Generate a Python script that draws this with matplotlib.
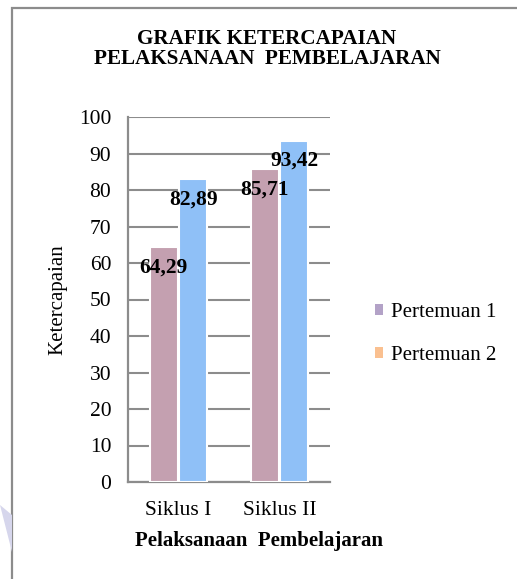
import matplotlib
matplotlib.use("Agg")
import matplotlib.pyplot as plt
from matplotlib.patches import Patch, Polygon, Rectangle
import numpy as np

plt.rcParams['font.family'] = ['Liberation Serif', 'DejaVu Serif']

categories = ["Siklus I", "Siklus II"]
series_names = ["Pertemuan 1", "Pertemuan 2"]
pertemuan1 = [64.29, 85.71]
pertemuan2 = [82.89, 93.42]
labels1 = ["64,29", "85,71"]
labels2 = ["82,89", "93,42"]

bar_colors = ["#C4A0B0", "#8FC0F7"]
legend_colors = ["#B3A2C7", "#FAC090"]
grey = "#8C8C8C"

fig = plt.figure(figsize=(5.17, 5.79), dpi=100)

# outer chart frame (right/bottom edges run off the picture)
fig.add_artist(Rectangle((12 / 517, -0.05), 1.2, 1 - 8 / 579 + 0.05,
                         transform=fig.transFigure, fill=False,
                         edgecolor=grey, linewidth=1.6))
# faint watermark shape at bottom left
fig.add_artist(Polygon([(0, 1 - 505 / 579), (12 / 517, 1 - 515 / 579),
                        (12 / 517, 1 - 552 / 579)],
                       closed=True, transform=fig.transFigure,
                       facecolor="#D6D6EC", edgecolor="none"))

ax = fig.add_axes([128 / 517, 1 - 482 / 579, 202 / 517, 365 / 579])

x = np.arange(len(categories))
w = 0.275
off = 0.145
ax.bar(x - off, pertemuan1, w, color=bar_colors[0], edgecolor="white",
       linewidth=1.5, zorder=3)
ax.bar(x + off, pertemuan2, w, color=bar_colors[1], edgecolor="white",
       linewidth=1.5, zorder=3)

for xi, v, t in zip(x - off, pertemuan1, labels1):
    ax.text(xi, v - 5.5, t, ha="center", va="center", fontsize=15.5,
            fontweight="bold", zorder=5)
for xi, v, t in zip(x + off, pertemuan2, labels2):
    ax.text(xi, v - 5.4, t, ha="center", va="center", fontsize=15.5,
            fontweight="bold", zorder=5)

ax.set_xlim(-0.5, 1.5)
ax.set_ylim(0, 100)
ax.set_yticks(range(0, 101, 10))
ax.set_xticks(x)
ax.set_xticklabels(categories, fontsize=15.5)
ax.tick_params(axis="y", labelsize=15.5, length=0, pad=12)
ax.tick_params(axis="x", length=0, pad=14)
ax.yaxis.grid(True, color=grey, linewidth=1.5, zorder=0)
ax.set_axisbelow(True)
for s in ["top", "right"]:
    ax.spines[s].set_visible(False)
for s in ["left", "bottom"]:
    ax.spines[s].set_color(grey)
    ax.spines[s].set_linewidth(1.6)

ax.set_ylabel("Ketercapaian", fontsize=15)
ax.yaxis.set_label_coords(-0.30, 0.5)
ax.set_xlabel("Pelaksanaan  Pembelajaran", fontsize=15, fontweight="bold")
ax.xaxis.set_label_coords(0.65, -0.135)

fig.text(267 / 517, 1 - 49 / 579, "GRAFIK KETERCAPAIAN\nPELAKSANAAN  PEMBELAJARAN",
         ha="center", va="center", fontsize=15.2, fontweight="bold",
         linespacing=1.05)

handles = [Patch(facecolor=c, edgecolor="none") for c in legend_colors]
fig.legend(handles, series_names, loc="center left",
           bbox_to_anchor=(356 / 517, 1 - 334 / 579), frameon=False,
           fontsize=15, handlelength=0.4, handleheight=0.4,
           handletextpad=0.4, labelspacing=1.15)

fig.savefig("out.png", dpi=100)
